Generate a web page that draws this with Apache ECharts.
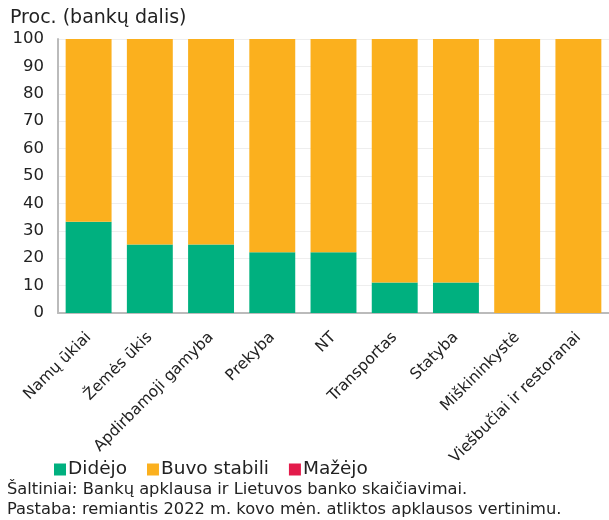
<!DOCTYPE html>
<html>
<head>
<meta charset="utf-8">
<script src="https://cdn.jsdelivr.net/npm/echarts@6/dist/echarts.min.js"></script>
<style>
  html, body { margin: 0; padding: 0; background: #fff; }
  #chart { width: 609px; height: 520px; }
</style>
</head>
<body>
<div id="chart"></div>
<script>
// Sectors surveyed
var categories = ['Namų ūkiai', 'Žemės ūkis', 'Apdirbamoji gamyba', 'Prekyba', 'NT', 'Transportas', 'Statyba', 'Miškininkystė', 'Viešbučiai ir restoranai'];
// Share of banks (%) per answer
var didejo = [33.3, 25, 25, 22.2, 22.2, 11.1, 11.1, 0, 0];
var buvoStabili = [66.7, 75, 75, 77.8, 77.8, 88.9, 88.9, 100, 100];
var mazejo = [0, 0, 0, 0, 0, 0, 0, 0, 0];
var yTicks = [0, 10, 20, 30, 40, 50, 60, 70, 80, 90, 100];

var font = 'Verdana, "DejaVu Sans", sans-serif';
var chart = echarts.init(document.getElementById('chart'), null, { renderer: 'canvas' });

function bar(name, data, color) {
  return {
    name: name, type: 'bar', stack: 'total', data: data,
    barCategoryGap: '25%',
    itemStyle: { color: color },
    emphasis: { disabled: true }
  };
}

chart.setOption({
  animation: false,
  textStyle: { fontFamily: font },
  title: {
    text: 'Proc. (bankų dalis)', left: 5, top: 4,
    textStyle: { fontFamily: font, fontSize: 19, fontWeight: 'normal', color: '#222' }
  },
  legend: {
    left: 49, top: 455, itemWidth: 12, itemHeight: 12, itemGap: 20,
    icon: 'rect',
    textStyle: { fontFamily: font, fontSize: 18.5, color: '#222', padding: [0, 0, 0, -3] },
    data: ['Didėjo', 'Buvo stabili', 'Mažėjo']
  },
  graphic: [
    { type: 'text', left: 7, top: 482, style: { text: 'Šaltiniai: Bankų apklausa ir Lietuvos banko skaičiavimai.', font: '16.3px ' + font, fill: '#222' } },
    { type: 'text', left: 7, top: 502, style: { text: 'Pastaba: remiantis 2022 m. kovo mėn. atliktos apklausos vertinimu.', font: '16.3px ' + font, fill: '#222' } }
  ],
  grid: { left: 58, right: -8, top: 39, bottom: 207 },
  xAxis: {
    type: 'category', data: categories,
    axisLine: { show: true, lineStyle: { color: '#bbb', width: 2 } },
    axisTick: { show: false },
    axisLabel: { interval: 0, rotate: 45, fontFamily: font, fontSize: 15.5, color: '#222', margin: 22 }
  },
  yAxis: {
    type: 'value', min: yTicks[0], max: yTicks[yTicks.length - 1], interval: 10,
    axisLine: { show: true, lineStyle: { color: '#bbb', width: 2 } },
    axisTick: { show: false },
    splitLine: { lineStyle: { color: '#eeeeee', width: 1 } },
    axisLabel: { fontFamily: font, fontSize: 16.5, color: '#222', margin: 14 }
  },
  series: [
    bar('Didėjo', didejo, '#00b07f'),
    bar('Buvo stabili', buvoStabili, '#fbb01e'),
    bar('Mažėjo', mazejo, '#e31b4b')
  ]
});
</script>
</body>
</html>
